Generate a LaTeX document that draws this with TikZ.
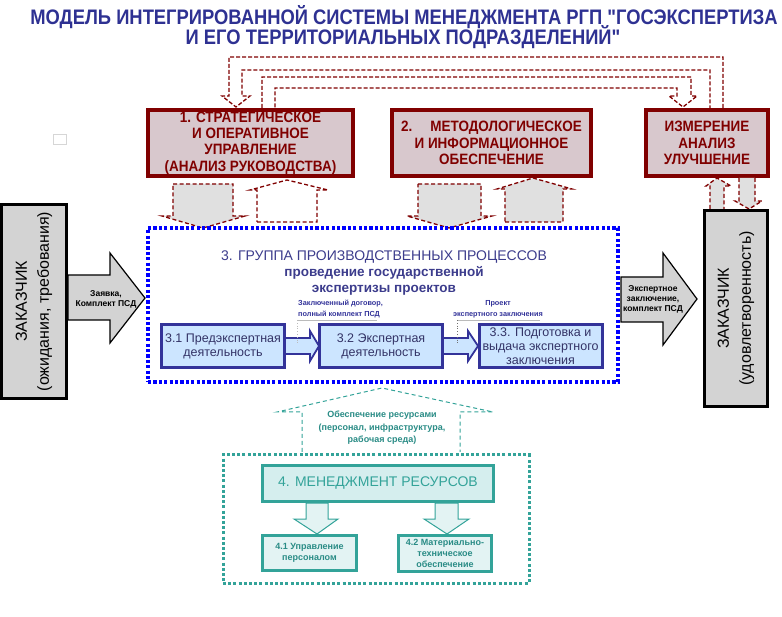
\documentclass[tikz,border=0pt]{standalone}
\usepackage{fontspec}
\setmainfont{Liberation Sans}
\newfontfamily\nar[FakeStretch=0.875]{Liberation Sans}
\newfontfamily\mnar[FakeStretch=0.9]{Liberation Sans}
\definecolor{dred}{HTML}{800000}
\definecolor{topfill}{HTML}{D8C8CD}
\definecolor{ttl}{HTML}{2E3192}
\definecolor{pblue}{HTML}{333399}
\definecolor{pfill}{HTML}{CCE5FF}
\definecolor{ptext}{HTML}{333366}
\definecolor{gtext}{HTML}{3C3C8C}
\definecolor{teal1}{HTML}{33A399}
\definecolor{tealtext}{HTML}{2A8C86}
\definecolor{tealfill}{HTML}{D5EEEE}
\definecolor{tealfill2}{HTML}{E3F3F3}
\definecolor{custgrey}{HTML}{D3D3D3}
\definecolor{agrey}{HTML}{E0E0E0}
\definecolor{dotblue}{HTML}{0000FF}
\definecolor{lgrey}{HTML}{BBBBBB}
\begin{document}
\begin{tikzpicture}[x=1pt,y=-1pt,
  titlestyle/.style={text=ttl,font=\nar\bfseries\fontsize{21}{21}\selectfont,inner sep=0pt,anchor=base},
  topbox/.style={draw=dred,line width=4pt,fill=topfill,text=dred,align=center,inner sep=0pt,
     font=\mnar\bfseries\fontsize{15}{16.3}\selectfont,minimum height=66},
  redash/.style={draw=dred,line width=1.3pt,dash pattern=on 4pt off 2pt},
  blkarrow/.style={draw=dred,line width=1.3pt,dash pattern=on 4pt off 2.5pt},
  bluedot/.style={draw=dotblue,line width=3.2pt,dash pattern=on 3.2pt off 2.2pt,inner sep=0pt},
  tealdot/.style={draw=teal1,line width=3pt,dash pattern=on 3pt off 2.2pt,inner sep=0pt},
  custbox/.style={draw=black,line width=3pt,fill=custgrey,rotate=90,align=center,inner sep=0pt,
     font=\fontsize{16}{22}\selectfont},
  procbox/.style={draw=pblue,line width=3pt,fill=pfill,text=ptext,align=center,inner sep=0pt,
     font=\fontsize{12.5}{14}\selectfont,minimum width=123,minimum height=43},
  procarrow/.style={draw=pblue,line width=1.8pt,fill=pfill},
  grptitle/.style={text=gtext,font=\fontsize{14}{14}\selectfont,inner sep=0pt},
  grpsub/.style={text=gtext,font=\bfseries\fontsize{13.5}{14}\selectfont,inner sep=0pt},
  lbl/.style={text=pblue,font=\bfseries\fontsize{7.3}{11}\selectfont,inner sep=0pt},
  sidearrow/.style={draw=black,line width=1.2pt,fill=custgrey},
  sidetext/.style={font=\bfseries\fontsize{8.5}{10}\selectfont,align=center,inner sep=0pt},
  resmain/.style={draw=teal1,line width=3pt,fill=tealfill,text=teal1,inner sep=0pt,
     font=\fontsize{14}{14}\selectfont,minimum width=231,minimum height=36},
  ressub/.style={draw=teal1,line width=2.5pt,fill=tealfill2,text=tealtext,align=center,inner sep=0pt,
     font=\bfseries\fontsize{9}{11}\selectfont},
  tealarrow/.style={draw=teal1,line width=1pt,fill=tealfill2},
  tealdash/.style={draw=teal1,line width=1pt,dash pattern=on 4pt off 3pt,fill=white}
]
\useasboundingbox (0,0) rectangle (782,617);

% title
\node[titlestyle] (t1) at (404,25) {МОДЕЛЬ ИНТЕГРИРОВАННОЙ СИСТЕМЫ МЕНЕДЖМЕНТА РГП "ГОСЭКСПЕРТИЗА};
\node[titlestyle] (t2) at (403,45) {И ЕГО ТЕРРИТОРИАЛЬНЫХ ПОДРАЗДЕЛЕНИЙ"};

% small square
\node[draw=lgrey!60,line width=0.8pt,minimum width=13,minimum height=10,inner sep=0pt] (sq) at (60,139.5) {};

% top loop arrows
\path[redash] (723,108) -- (723,57) -- (229,57) -- (229,96) -- (222,96) -- (236,107)
   -- (250,96) -- (242,96) -- (242,70) -- (710,70) -- (710,108);
\path[redash] (262,108) -- (262,77) -- (691,77) -- (691,96) -- (697,96) -- (683,107)
   -- (669,96) -- (677,96) -- (677,88) -- (275,88) -- (275,108);

% top boxes
\node[topbox,minimum width=205] (b1) at (250.5,143) {1. СТРАТЕГИЧЕСКОЕ\\И ОПЕРАТИВНОЕ\\УПРАВЛЕНИЕ\\(АНАЛИЗ РУКОВОДСТВА)};
\node[topbox,minimum width=199] (b2) at (491.5,143) {2.\hspace{1.2em}МЕТОДОЛОГИЧЕСКОЕ\\И ИНФОРМАЦИОННОЕ\\ОБЕСПЕЧЕНИЕ};
\node[topbox,minimum width=122] (b3) at (707,143) {ИЗМЕРЕНИЕ\\АНАЛИЗ\\УЛУЧШЕНИЕ};

% block arrows under top boxes
\filldraw[blkarrow,fill=agrey] (173,184) -- (233,184) -- (233,216) -- (245,216) -- (203,228) -- (162,216) -- (173,216) -- cycle;
\filldraw[blkarrow,fill=white] (257,222) -- (317,222) -- (317,190) -- (328,190) -- (287,180) -- (250,190) -- (257,190) -- cycle;
\filldraw[blkarrow,fill=agrey] (418,184) -- (481,184) -- (481,216) -- (492,216) -- (449,228) -- (407,216) -- (418,216) -- cycle;
\filldraw[blkarrow,fill=agrey] (505,222) -- (563,222) -- (563,189) -- (572,189) -- (533,178) -- (497,189) -- (505,189) -- cycle;

% small arrows between measurement box and customer
\filldraw[blkarrow,fill=agrey] (710,209) -- (710,186) -- (706,186) -- (717,178) -- (731,186) -- (724,186) -- (724,209);
\filldraw[blkarrow,fill=agrey] (739,178) -- (739,201) -- (735,201) -- (749,209) -- (762,201) -- (755,201) -- (755,178);

% customers
\node[custbox,minimum width=194,minimum height=65] (cl) at (34,301.5) {ЗАКАЗЧИК\\(ожидания, требования)};
\node[custbox,minimum width=196,minimum height=63] (cr) at (736,308.5) {ЗАКАЗЧИК\\(удовлетворенность)};

% side arrows
\filldraw[sidearrow] (68,275) -- (110,275) -- (110,253) -- (145,298) -- (110,343) -- (110,320) -- (68,320) -- cycle;
\node[sidetext] (tin) at (106,299) {Заявка,\\Комплект ПСД};
\filldraw[sidearrow] (621,277) -- (663,277) -- (663,253) -- (697,299) -- (663,345) -- (663,322) -- (621,322) -- cycle;
\node[sidetext] (tout) at (653,299) {Экспертное\\заключение,\\комплект ПСД};

% process group
\node[bluedot,minimum width=470,minimum height=154] (grp) at (383,305) {};
\node[grptitle] (g1) at (384,257) {3. ГРУППА ПРОИЗВОДСТВЕННЫХ ПРОЦЕССОВ};
\node[grpsub] (g2) at (384,273) {проведение государственной};
\node[grpsub] (g3) at (384,290) {экспертизы проектов};

\filldraw[procarrow] (285,338) -- (310,338) -- (310,331) -- (319,346) -- (310,361) -- (310,354) -- (285,354) -- cycle;
\filldraw[procarrow] (443,338) -- (468,338) -- (468,331) -- (478,346) -- (468,361) -- (468,354) -- (443,354) -- cycle;

\node[procbox] (p1) at (223,346) {3.1 Предэкспертная\\деятельность};
\node[procbox] (p2) at (381,346) {3.2 Экспертная\\деятельность};
\node[procbox] (p3) at (540.5,346) {3.3. Подготовка и\\выдача экспертного\\заключения};

\node[lbl,align=left,anchor=base west] (l1) at (298,317) {Заключенный договор,\\полный комплект ПСД};
\node[lbl,align=center,anchor=base] (l2) at (498,317) {Проект\\экспертного заключения};
\coordinate (u1) at (297,320);
\coordinate (u2) at (457,320);
\draw[lgrey,line width=0.8pt] (u1) -- (377,320);
\draw[lgrey,line width=0.8pt,dotted] (u1) -- (297,343);
\draw[lgrey,line width=0.8pt] (u2) -- (540,320);
\draw[lgrey!60!black,line width=0.8pt,dotted] (u2) -- (457,343);

% resources
\filldraw[tealdash] (302,452) -- (302,412) -- (277,412) -- (382,388) -- (493,412) -- (460,412) -- (460,452);
\node[text=tealtext,font=\bfseries\fontsize{9}{12.5}\selectfont,align=center,inner sep=0pt] (ob) at (382,428)
  {Обеспечение ресурсами\\(персонал, инфраструктура,\\рабочая среда)};
\node[tealdot,minimum width=306,minimum height=128] (resgrp) at (376,519) {};
\filldraw[tealarrow] (306,503) -- (306,519) -- (294,519) -- (317,534) -- (338,519) -- (328,519) -- (328,503) -- cycle;
\filldraw[tealarrow] (435,503) -- (435,519) -- (424,519) -- (447,534) -- (469,519) -- (458,519) -- (458,503) -- cycle;
\node[resmain] (r0) at (378,483.5) {4. МЕНЕДЖМЕНТ РЕСУРСОВ};
\node[ressub,minimum width=94,minimum height=35] (r1) at (309.5,553) {4.1 Управление\\персоналом};
\node[ressub,minimum width=93,minimum height=36] (r2) at (445,553.5) {4.2 Материально-\\техническое\\обеспечение};
\end{tikzpicture}
\end{document}
